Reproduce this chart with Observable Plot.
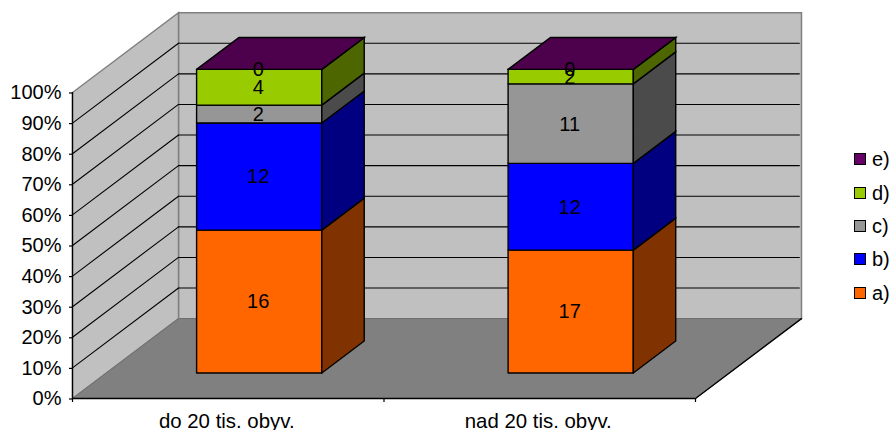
<!DOCTYPE html>
<html><head><meta charset="utf-8">
<script src="https://cdn.jsdelivr.net/npm/d3@7"></script>
<script src="https://cdn.jsdelivr.net/npm/@observablehq/plot@0.6"></script>
<style>
html,body{margin:0;padding:0;background:#fff;overflow:hidden;width:891px;height:430px}
#chart{position:relative;width:891px;height:430px;overflow:hidden;font-family:"Liberation Sans",Arial,sans-serif}
#legend{position:absolute;left:854px;top:0;font-size:20px;color:#000}
#legend div{position:absolute;left:0;white-space:nowrap;line-height:20px;display:flex;align-items:center}
#legend i{display:block;width:10px;height:10px;border:1.5px solid #000;margin-right:6px;flex:none}
</style></head><body><div id="chart"><div id="legend"></div></div>
<script>
const categories = ["do 20 tis. obyv.", "nad 20 tis. obyv."];
const series = ["a)", "b)", "c)", "d)", "e)"];
const a = [16, 17];
const b = [12, 12];
const c = [2, 11];
const d_ = [4, 2];
const e = [0, 0];
const seriesValues = [a, b, c, d_, e];
const frontColors = ["#ff6600", "#0000ff", "#969696", "#99cc00", "#660066"];
const sideColors  = ["#803300", "#000080", "#4b4b4b", "#4d6600", "#4d004d"];
const topColor = "#4d004b";
const legendRows = [["e)", 159], ["d)", 193], ["c)", 226], ["b)", 259], ["a)", 293]];
const percentTicks = d3.range(0, 101, 10);

// oblique projection of the 3D box into the two Plot scales (data units)
const KX = 0.3403, KY = 26.1;
const pt = (cx, pct, depth) => ({x: cx + depth * KX, y: pct + depth * KY});
const BAR_INSET = 0.2895, BAR_W = 0.402, D0 = 0.32, D1 = 0.72, BAR_SCALE = 0.992;

let nid = 0;
const poly = (pts, fill) => { const id = nid++; return [...pts, pts[0]].map(p => ({...p, id, fill})); };
const polyMark = (rows, stroke, strokeWidth) => Plot.line(rows, {
  x: "x", y: "y", z: "id", fill: "fill", stroke, strokeWidth,
  strokeLinejoin: "miter", strokeMiterlimit: 4, curve: "linear"
});

const backWall = poly([pt(0,0,1), pt(2,0,1), pt(2,100,1), pt(0,100,1)], "#c0c0c0");
const sideWall = poly([pt(0,0,0), pt(0,0,1), pt(0,100,1), pt(0,100,0)], "#c0c0c0");
const floor = poly([pt(0,0,0), pt(2,0,0), pt(2,0,1), pt(0,0,1)], "#808080");

const gridBack = percentTicks.slice(1, -1).flatMap(t => [
  {...pt(0, t, 1), t}, {...pt(1.993, t, 1), t}]);
const gridSide = percentTicks.slice(1, -1).flatMap(t => [
  {...pt(0, t, 0), t}, {...pt(0, t, 1), t}]);

const faces = [], labels = [];
categories.forEach((cat, i) => {
  const total = d3.sum(seriesValues, s => s[i]);
  const x0 = i + BAR_INSET, x1 = x0 + BAR_W;
  let acc = 0;
  seriesValues.forEach((s, j) => {
    const lo = acc / total * 100 * BAR_SCALE;
    acc += s[i];
    const hi = acc / total * 100 * BAR_SCALE;
    faces.push(...poly([pt(x0,lo,D0), pt(x1,lo,D0), pt(x1,hi,D0), pt(x0,hi,D0)], frontColors[j]));
    faces.push(...poly([pt(x1,lo,D0), pt(x1,lo,D1), pt(x1,hi,D1), pt(x1,hi,D0)], sideColors[j]));
    const m = pt((x0 + x1) / 2, (lo + hi) / 2, D0);
    labels.push({x: m.x, y: m.y, text: String(s[i])});
  });
  const top = 100 * BAR_SCALE;
  faces.push(...poly([pt(x0,top,D0), pt(x1,top,D0), pt(x1,top,D1), pt(x0,top,D1)], topColor));
});

const plot = Plot.plot({
  width: 891, height: 430,
  marginLeft: 72, marginRight: 196, marginTop: 92, marginBottom: 32,
  style: {fontFamily: '"Liberation Sans",Arial,sans-serif', overflow: "visible", background: "transparent", color: "#000"},
  x: {domain: [0, 2], axis: null},
  y: {domain: [0, 100], axis: null},
  color: {type: "identity"},
  marks: [
    polyMark(backWall, "#808080", 1.5),
    polyMark(sideWall, "#808080", 1.5),
    polyMark(floor, "#6e6e6e", 1),
    Plot.line(gridBack, {x: "x", y: "y", z: "t", stroke: "#000", strokeWidth: 1.1}),
    Plot.line(gridSide, {x: "x", y: "y", z: "t", stroke: "#000", strokeWidth: 1.1}),
    polyMark(faces, "#000", 1.4),
    Plot.text(labels, {x: "x", y: "y", dx: -1, dy: 0.5, text: "text", fontSize: 20, fill: "#000"}),
    Plot.line([pt(2,0,0), pt(2,0,1)], {x: "x", y: "y", stroke: "#000", strokeWidth: 1.3}),
    Plot.ruleY([0], {stroke: "#000", strokeWidth: 1.3}),
    Plot.ruleX([0], {stroke: "#000", strokeWidth: 1.3}),
    Plot.axisY({label: null, ticks: percentTicks, tickFormat: t => t + "%", tickSize: 3, tickPadding: 8, fontSize: 20, dy: 0.5, fontVariant: "normal", stroke: "#000", fill: "#000", strokeWidth: 1.2}),
    Plot.axisX({label: null, ticks: [0, 1, 2], tickFormat: () => "", tickSize: 4, stroke: "#000", strokeWidth: 1.2}),
    Plot.axisX({label: null, ticks: [0.5, 1.5], tickFormat: t => categories[Math.floor(t)], tickSize: 0, tickPadding: 15, dx: -1.5, fontSize: 20.4, fontVariant: "normal", fill: "#000"})
  ]
});
document.getElementById("chart").prepend(plot);

const legend = document.getElementById("legend");
legendRows.forEach(([name, y]) => {
  const row = document.createElement("div");
  row.style.top = (y - 10) + "px";
  const sw = document.createElement("i");
  sw.style.background = frontColors[series.indexOf(name)];
  row.appendChild(sw);
  row.appendChild(document.createTextNode(name));
  legend.appendChild(row);
});
</script></body></html>
